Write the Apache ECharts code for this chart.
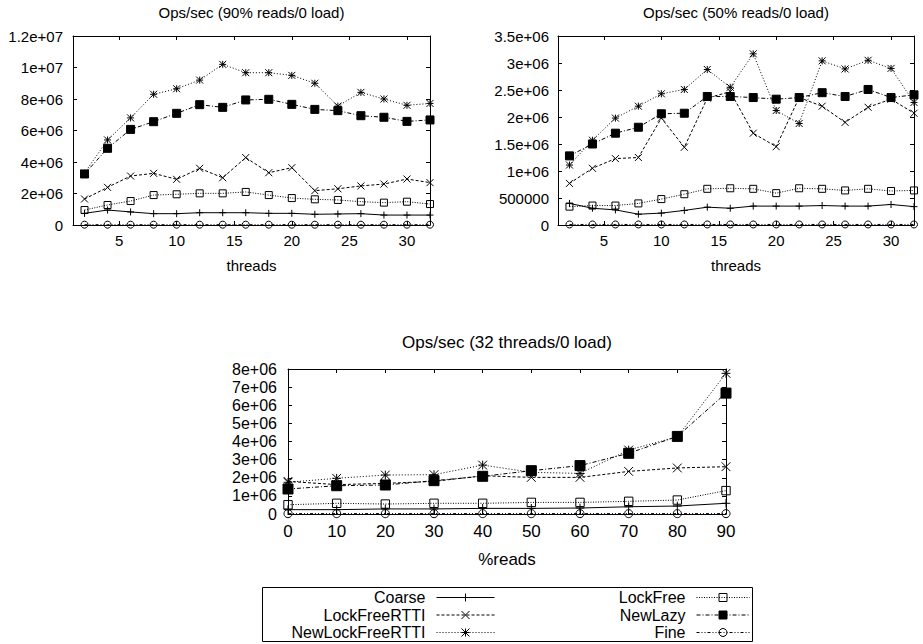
<!DOCTYPE html>
<html>
<head>
<meta charset="utf-8">
<title>Ops/sec</title>
<script src="https://cdn.jsdelivr.net/npm/echarts@6/dist/echarts.min.js"></script>
<style>
  html, body { margin: 0; padding: 0; background: #fff; }
  #main { width: 923px; height: 644px; }
</style>
</head>
<body>
<div id="main"></div>
<script>
// x values
var threads = [2, 4, 6, 8, 10, 12, 14, 16, 18, 20, 22, 24, 26, 28, 30, 32];
var reads = [0, 10, 20, 30, 40, 50, 60, 70, 80, 90];
var threadTicks = [5, 10, 15, 20, 25, 30];

// series names, legend order (left column then right column)
var names = ['Coarse', 'LockFreeRTTI', 'NewLockFreeRTTI', 'LockFree', 'NewLazy', 'Fine'];

// chart 1: Ops/sec (90% reads/0 load), millions
var c1Coarse          = [0.74, 0.95, 0.83, 0.72, 0.72, 0.78, 0.78, 0.78, 0.74, 0.74, 0.68, 0.70, 0.72, 0.63, 0.63, 0.63];
var c1LockFreeRTTI    = [1.65, 2.39, 3.11, 3.28, 2.90, 3.60, 3.00, 4.28, 3.32, 3.64, 2.18, 2.30, 2.48, 2.60, 2.92, 2.69];
var c1NewLockFreeRTTI = [3.30, 5.40, 6.80, 8.30, 8.65, 9.20, 10.20, 9.67, 9.67, 9.50, 9.00, 7.55, 8.42, 8.00, 7.60, 7.72];
var c1LockFree        = [0.95, 1.27, 1.52, 1.90, 1.95, 2.01, 2.01, 2.10, 1.90, 1.71, 1.63, 1.59, 1.48, 1.42, 1.48, 1.33];
var c1NewLazy         = [3.24, 4.87, 6.07, 6.56, 7.09, 7.64, 7.47, 7.94, 7.98, 7.66, 7.34, 7.26, 6.94, 6.84, 6.58, 6.67];
var c1Fine            = [0.02, 0.02, 0.02, 0.02, 0.02, 0.02, 0.02, 0.02, 0.02, 0.02, 0.02, 0.02, 0.02, 0.02, 0.02, 0.02];

// chart 2: Ops/sec (50% reads/0 load), millions
var c2Coarse          = [0.40, 0.31, 0.28, 0.20, 0.22, 0.27, 0.33, 0.31, 0.35, 0.35, 0.35, 0.36, 0.35, 0.35, 0.38, 0.34];
var c2LockFreeRTTI    = [0.77, 1.05, 1.23, 1.25, 1.98, 1.44, 2.35, 2.47, 1.70, 1.45, 2.36, 2.20, 1.90, 2.18, 2.33, 2.07];
var c2NewLockFreeRTTI = [1.11, 1.57, 1.98, 2.20, 2.43, 2.51, 2.88, 2.55, 3.17, 2.12, 1.88, 3.04, 2.89, 3.05, 2.90, 2.27];
var c2LockFree        = [0.34, 0.36, 0.36, 0.40, 0.48, 0.57, 0.67, 0.68, 0.67, 0.59, 0.68, 0.67, 0.64, 0.67, 0.63, 0.64];
var c2NewLazy         = [1.28, 1.50, 1.70, 1.81, 2.06, 2.07, 2.38, 2.38, 2.36, 2.33, 2.36, 2.45, 2.38, 2.51, 2.36, 2.41];
var c2Fine            = [0.01, 0.01, 0.01, 0.01, 0.01, 0.01, 0.01, 0.01, 0.01, 0.01, 0.01, 0.01, 0.01, 0.01, 0.01, 0.01];

// chart 3: Ops/sec (32 threads/0 load), millions
var c3Coarse          = [0.24, 0.24, 0.28, 0.28, 0.31, 0.31, 0.33, 0.40, 0.44, 0.59];
var c3LockFreeRTTI    = [1.80, 1.62, 1.69, 1.80, 2.11, 2.02, 2.02, 2.35, 2.54, 2.61];
var c3NewLockFreeRTTI = [1.75, 1.97, 2.15, 2.17, 2.70, 2.30, 2.24, 3.53, 4.26, 7.76];
var c3LockFree        = [0.51, 0.59, 0.55, 0.59, 0.59, 0.64, 0.64, 0.70, 0.77, 1.29];
var c3NewLazy         = [1.38, 1.56, 1.60, 1.84, 2.08, 2.39, 2.67, 3.35, 4.28, 6.67];
var c3Fine            = [0.02, 0.02, 0.02, 0.02, 0.02, 0.02, 0.02, 0.02, 0.02, 0.02];

var FONT = 'Liberation Sans, Arial, Helvetica, sans-serif';

// gnuplot-ish point types and dash types
var looks = {
  Coarse:          { symbol: 'path://M0,5L10,5M5,0L5,10', size: 7, fill: 'rgba(0,0,0,0)', dash: 'solid' },
  LockFreeRTTI:    { symbol: 'path://M0,0L10,10M0,10L10,0', size: 7, fill: 'rgba(0,0,0,0)', dash: [3, 2] },
  NewLockFreeRTTI: { symbol: 'path://M0,0L10,10M0,10L10,0M5,0L5,10M0,5L10,5', size: 7, fill: 'rgba(0,0,0,0)', dash: [1, 2] },
  LockFree:        { symbol: 'rect', size: 7, fill: 'rgba(0,0,0,0)', dash: [1, 1.5] },
  NewLazy:         { symbol: 'rect', size: 8, fill: '#000', dash: [4, 2, 1, 2] },
  Fine:            { symbol: 'circle', size: 7, fill: 'rgba(0,0,0,0)', dash: [3, 2, 1, 2, 1, 2] }
};

function sci(v) {
  if (v === 0) return '0';
  if (v < 1e6) return String(v);
  return v.toExponential().replace(/e\+(\d)$/, 'e+0$1');
}

function mkSeries(name, vals, xs, g, k) {
  var s = looks[name];
  return {
    name: name,
    type: 'line',
    xAxisIndex: g * 2,
    yAxisIndex: g * 2,
    data: xs.map(function (x, i) { return [x, vals[i] * 1e6]; }),
    symbol: s.symbol,
    symbolSize: s.size * k,
    showAllSymbol: true,
    animation: false,
    lineStyle: { color: '#000', width: 1, type: s.dash },
    itemStyle: { color: s.fill, borderColor: '#000', borderWidth: 1 },
    emphasis: { disabled: true }
  };
}

var tick = { show: true, inside: true, length: 4, lineStyle: { color: '#000', width: 1 } };
var line = { show: true, onZero: false, lineStyle: { color: '#000', width: 1 } };

function xPair(g, min, max, opts, fs, margin, name, gap) {
  var bottom = {
    type: 'value', gridIndex: g, min: min, max: max, position: 'bottom',
    axisLine: line, splitLine: { show: false },
    axisTick: Object.assign({}, tick, opts.tick || {}),
    axisLabel: Object.assign({ color: '#000', fontSize: fs, fontFamily: FONT, margin: margin }, opts.label || {}),
    name: name, nameLocation: 'middle', nameGap: gap,
    nameTextStyle: { color: '#000', fontSize: fs, fontFamily: FONT }
  };
  if (opts.interval) bottom.interval = opts.interval;
  var top = {
    type: 'value', gridIndex: g, min: min, max: max, position: 'top',
    axisLine: line, splitLine: { show: false },
    axisTick: Object.assign({}, tick, opts.tick || {}),
    axisLabel: { show: false }
  };
  if (opts.interval) top.interval = opts.interval;
  return [bottom, top];
}

function yPair(g, max, interval, fs, margin) {
  return [{
    type: 'value', gridIndex: g, min: 0, max: max, interval: interval, position: 'left',
    axisLine: line, axisTick: tick, splitLine: { show: false },
    axisLabel: { color: '#000', fontSize: fs, fontFamily: FONT, margin: margin, formatter: sci }
  }, {
    type: 'value', gridIndex: g, min: 0, max: max, interval: interval, position: 'right',
    axisLine: line, axisTick: tick, splitLine: { show: false },
    axisLabel: { show: false }
  }];
}

var threadOpts = { tick: { customValues: threadTicks }, label: { customValues: threadTicks } };

var xAxes = [].concat(
  xPair(0, 1, 32, threadOpts, 15, 8, 'threads', 33),
  xPair(1, 1, 32, threadOpts, 15, 8, 'threads', 33),
  xPair(2, 0, 90, { interval: 10 }, 17, 9, '%reads', 37)
);
var yAxes = [].concat(
  yPair(0, 1.2e7, 2e6, 15, 10),
  yPair(1, 3.5e6, 5e5, 15, 9),
  yPair(2, 8e6, 1e6, 16, 11)
);

var series = [].concat(
  mkSeries('Coarse', c1Coarse, threads, 0, 1),
  mkSeries('LockFreeRTTI', c1LockFreeRTTI, threads, 0, 1),
  mkSeries('NewLockFreeRTTI', c1NewLockFreeRTTI, threads, 0, 1),
  mkSeries('LockFree', c1LockFree, threads, 0, 1),
  mkSeries('NewLazy', c1NewLazy, threads, 0, 1),
  mkSeries('Fine', c1Fine, threads, 0, 1),
  mkSeries('Coarse', c2Coarse, threads, 1, 1),
  mkSeries('LockFreeRTTI', c2LockFreeRTTI, threads, 1, 1),
  mkSeries('NewLockFreeRTTI', c2NewLockFreeRTTI, threads, 1, 1),
  mkSeries('LockFree', c2LockFree, threads, 1, 1),
  mkSeries('NewLazy', c2NewLazy, threads, 1, 1),
  mkSeries('Fine', c2Fine, threads, 1, 1),
  mkSeries('Coarse', c3Coarse, reads, 2, 1.25),
  mkSeries('LockFreeRTTI', c3LockFreeRTTI, reads, 2, 1.25),
  mkSeries('NewLockFreeRTTI', c3NewLockFreeRTTI, reads, 2, 1.25),
  mkSeries('LockFree', c3LockFree, reads, 2, 1.2),
  mkSeries('NewLazy', c3NewLazy, reads, 2, 1.25),
  mkSeries('Fine', c3Fine, reads, 2, 1.15)
);

// legend: one component per entry so text can be right aligned
var rowTops = [589.5, 607, 624.5];
var legends = names.map(function (n, i) {
  var left = i < 3;
  return {
    data: [n],
    right: left ? 428 : 173,
    top: rowTops[i % 3],
    align: 'right',
    padding: 0,
    itemWidth: left ? 58 : 53,
    itemHeight: 10,
    selectedMode: false,
    lineStyle: { width: 1 },
    itemStyle: { borderWidth: 1 },
    textStyle: { color: '#000', fontSize: 16, fontFamily: FONT, lineHeight: 16, padding: [0, 6, 0, 0] }
  };
});

function title(text, x, y, fs) {
  return {
    text: text, left: x, top: y, textAlign: 'center', padding: 0,
    textStyle: { color: '#000', fontSize: fs, fontWeight: 'normal', fontFamily: FONT }
  };
}

var chart = echarts.init(document.getElementById('main'), null, { renderer: 'svg' });
chart.setOption({
  backgroundColor: '#fff',
  animation: false,
  title: [
    title('Ops/sec (90% reads/0 load)', 251.5, 5, 15),
    title('Ops/sec (50% reads/0 load)', 736, 5, 15),
    title('Ops/sec (32 threads/0 load)', 507, 334, 17)
  ],
  grid: [
    { left: 73, top: 36, width: 357, height: 189 },
    { left: 558, top: 36, width: 356, height: 189 },
    { left: 288, top: 369, width: 438, height: 145 }
  ],
  xAxis: xAxes,
  yAxis: yAxes,
  legend: legends,
  graphic: [{
    type: 'rect',
    shape: { x: 262.5, y: 587.5, width: 490, height: 54 },
    style: { fill: 'none', stroke: '#000', lineWidth: 1 },
    silent: true
  }],
  series: series
});
</script>
</body>
</html>
